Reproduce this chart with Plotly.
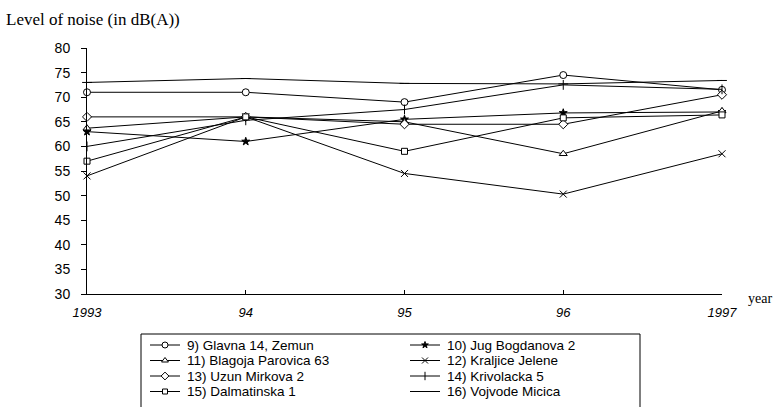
import plotly.graph_objects as go

# Survey years and measured noise levels, dB(A)
years = [1993, 1994, 1995, 1996, 1997]
year_labels = ["1993", "94", "95", "96", "1997"]

glavna = [71, 71, 69, 74.5, 71.5]
jug_bogdanova = [63, 61, 65.5, 66.8, 67]
blagoja_parovica = [63.7, 66, 65, 58.5, 67.2]
kraljice_jelene = [54, 66, 54.5, 50.3, 58.5]
uzun_mirkova = [66, 66, 64.5, 64.5, 70.5]
krivolacka = [60, 65.3, 67.5, 72.5, 71.6]
dalmatinska = [57, 66, 59, 65.8, 66.4]
vojvode_micica = [73, 73.8, 72.8, 72.7, 73.4]

series_names = [
    "9) Glavna 14, Zemun",
    "10) Jug Bogdanova 2",
    "11) Blagoja Parovica 63",
    "12) Kraljice Jelene",
    "13) Uzun Mirkova 2",
    "14) Krivolacka 5",
    "15) Dalmatinska 1",
    "16) Vojvode Micica",
]
series_values = [glavna, jug_bogdanova, blagoja_parovica, kraljice_jelene,
                 uzun_mirkova, krivolacka, dalmatinska, vojvode_micica]

# marker symbol, size, fill for each street
styles = [
    ("circle", 7, "white"),
    ("star", 6, "black"),
    ("triangle-up", 7, "white"),
    ("x-thin-open", 7, "black"),
    ("diamond", 7, "white"),
    ("line-ns-open", 7, "black"),
    ("square", 6, "white"),
    ("line-ew-open", 7, "black"),
]

W, H = 783, 407
# plot-area edges in page pixels
PL, PR, PT, PB = 87, 722, 48, 294

SANS = "Liberation Sans, Arial, sans-serif"
SERIF = "Liberation Serif, Times New Roman, serif"

fig = go.Figure()

# data lines on the main axes
for name, vals, (sym, size, fill) in zip(series_names, series_values, styles):
    fig.add_trace(go.Scatter(
        x=years, y=vals, name=name, mode="lines+markers",
        line=dict(color="black", width=1),
        marker=dict(symbol=sym, size=size, color=fill,
                    line=dict(color="black", width=1)),
        cliponaxis=False, showlegend=False,
    ))

# key box below the chart: two columns, four rows, drawn on a pixel-unit canvas axis
KEY_LEFT, KEY_RIGHT, KEY_TOP = 141, 640, 334
ROW0, ROW_STEP = 345, 15.5
COL_X = [150, 410]
annotations = []
for i, (name, (sym, size, fill)) in enumerate(zip(series_names, styles)):
    col, row = i % 2, i // 2
    x0 = COL_X[col]
    yk = ROW0 + row * ROW_STEP
    fig.add_trace(go.Scatter(
        x=[x0, x0 + 30], y=[yk, yk], xaxis="x2", yaxis="y2", mode="lines",
        line=dict(color="black", width=1), showlegend=False, hoverinfo="skip",
    ))
    fig.add_trace(go.Scatter(
        x=[x0 + 15], y=[yk], xaxis="x2", yaxis="y2", mode="markers",
        marker=dict(symbol=sym, size=size - 1, color=fill,
                    line=dict(color="black", width=1)),
        showlegend=False, hoverinfo="skip",
    ))
    annotations.append(dict(
        text=name, xref="x2", yref="y2", x=x0 + 35, y=yk,
        xanchor="left", yanchor="middle", showarrow=False,
        font=dict(family=SANS, size=13.5),
    ))

annotations += [
    dict(text="Level of noise (in dB(A))", xref="paper", yref="paper",
         x=4 / W, y=1 - 20 / H, xanchor="left", yanchor="middle",
         showarrow=False, font=dict(family=SERIF, size=17)),
    dict(text="year", xref="paper", yref="paper",
         x=746 / W, y=1 - 298 / H, xanchor="left", yanchor="middle",
         showarrow=False, font=dict(family=SERIF, size=14)),
]

fig.update_layout(
    width=W, height=H,
    margin=dict(l=0, r=0, t=0, b=0, autoexpand=False),
    paper_bgcolor="white", plot_bgcolor="rgba(0,0,0,0)",
    font=dict(family=SANS, color="black", size=12),
    showlegend=False,
    xaxis=dict(
        domain=[PL / W, PR / W], anchor="y",
        range=[1993, 1997],
        tickvals=years, ticktext=year_labels,
        showgrid=False, zeroline=False,
        showline=True, linecolor="black", linewidth=1,
        ticks="inside", ticklen=4, tickcolor="black",
        ticklabelstandoff=6,
        tickfont=dict(family=SANS, size=13, style="italic"),
    ),
    yaxis=dict(
        domain=[1 - PB / H, 1 - PT / H], anchor="x",
        range=[30, 80],
        tickvals=list(range(30, 81, 5)),
        showgrid=False, zeroline=False,
        showline=True, linecolor="black", linewidth=1,
        ticks="outside", ticklen=5, tickcolor="black",
        ticklabelstandoff=8,
        tickfont=dict(family=SANS, size=14),
    ),
    xaxis2=dict(domain=[0, 1], anchor="y2", range=[0, W], visible=False, fixedrange=True),
    yaxis2=dict(domain=[0, 1], anchor="x2", range=[H, 0], visible=False, fixedrange=True),
    shapes=[
        dict(type="rect", xref="x2", yref="y2",
             x0=KEY_LEFT, x1=KEY_RIGHT, y0=KEY_TOP, y1=H + 10,
             line=dict(color="black", width=1), fillcolor="rgba(0,0,0,0)"),
    ],
    annotations=annotations,
)

fig.write_html("out.html")
